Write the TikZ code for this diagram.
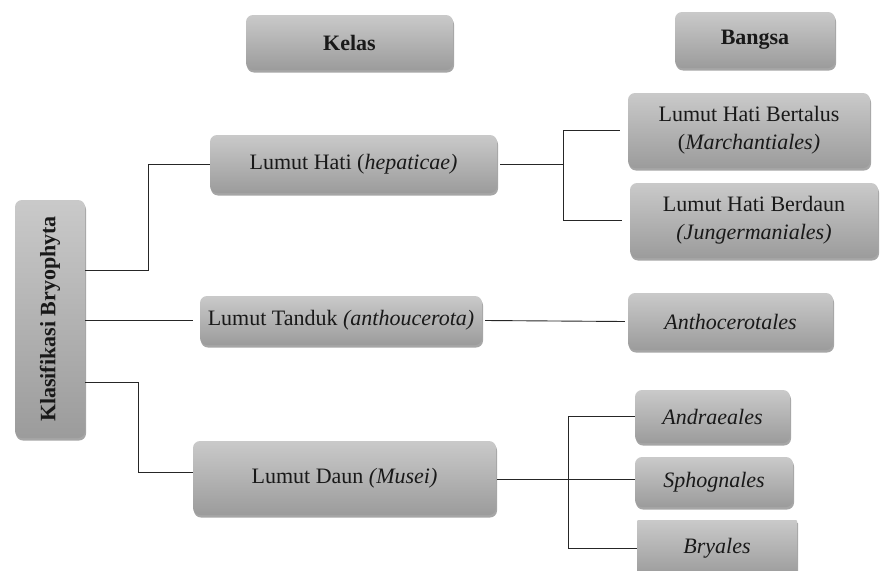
\documentclass[tikz,border=0pt]{standalone}
\usepackage{fontspec}
\setmainfont{Liberation Serif}
\usetikzlibrary{shadows}
\begin{document}
\begin{tikzpicture}[x=1pt,y=-1pt,
  box/.style={rounded corners=7pt, top color=gray!42, bottom color=gray!78,
    draw=none, inner sep=0pt, align=center, text=black!90,
    font=\fontsize{22}{28}\selectfont,
    drop shadow={shadow xshift=1pt, shadow yshift=-2.5pt, opacity=0.35, fill=black}},
  conn/.style={draw=black!85, line width=0.9pt}]
\useasboundingbox (0,0) rectangle (880,570);
\node[box, minimum width=207pt, minimum height=55pt, font=\fontsize{22}{28}\selectfont\bfseries] (kelas) at (349.5,42.5) {Kelas};
\node[box, minimum width=160pt, minimum height=56pt, font=\fontsize{22}{28}\selectfont\bfseries] (bangsa) at (755,40) {Bangsa};
\node[box, minimum width=70pt, minimum height=238pt] (klas) at (50,319) {};
\node[rotate=90, font=\fontsize{22}{28}\selectfont\bfseries, text=black!90] (klastext) at (klas.center) {Klasifikasi Bryophyta};
\node[box, minimum width=287pt, minimum height=58pt] (lh) at (353.5,164) {Lumut Hati (\textit{hepaticae)}};
\node[box, minimum width=282pt, minimum height=49pt] (lt) at (341,320.5) {Lumut Tanduk \textit{(anthoucerota)}};
\node[box, minimum width=303pt, minimum height=74pt] (ld) at (344.5,478) {Lumut Daun \textit{(Musei)}};
\node[box, minimum width=242pt, minimum height=75pt] (lhb) at (749,130.5) {Lumut Hati Bertalus\\(\textit{Marchantiales)}};
\node[box, minimum width=248pt, minimum height=75pt] (lhd) at (754,220.5) {Lumut Hati Berdaun\\\textit{(Jungermaniales)}};
\node[box, minimum width=205pt, minimum height=57pt] (anth) at (730.5,321.5) {\textit{Anthocerotales}};
\node[box, minimum width=155pt, minimum height=53pt] (andr) at (712.5,416.5) {\textit{Andraeales}};
\node[box, minimum width=158pt, minimum height=50pt] (spho) at (714,482) {\textit{Sphognales}};
\node[box, rounded corners=1pt, minimum width=160pt, minimum height=56pt] (bry) at (717,548) {\textit{Bryales}};
% connectors
\draw[conn] ([yshift=49pt]klas.east) -- ++(63,0) |- (lh.west);
\draw[conn] (klas.east |- lt.west) -- ([xshift=-7pt]lt.west);
\draw[conn] ([yshift=-63pt]klas.east) -- ++(53,0) |- ([yshift=6pt]ld.west);
\draw[conn] ([xshift=3pt]lh.east) -- ++(63,0) coordinate (j1);
\draw[conn] (j1) |- ([xshift=-8pt]lhb.west);
\draw[conn] (j1) |- ([xshift=-8pt]lhd.west);
\draw[conn] ([xshift=3pt]lt.east) -- ([xshift=-3pt]anth.west);
\draw[conn] ([xshift=1pt,yshift=-1pt]ld.east) -- ++(71,0) coordinate (j2);
\draw[conn] (j2) |- (andr.west);
\draw[conn] (j2) -- (j2 -| spho.west);
\draw[conn] (j2) |- (bry.west);
\end{tikzpicture}
\end{document}
